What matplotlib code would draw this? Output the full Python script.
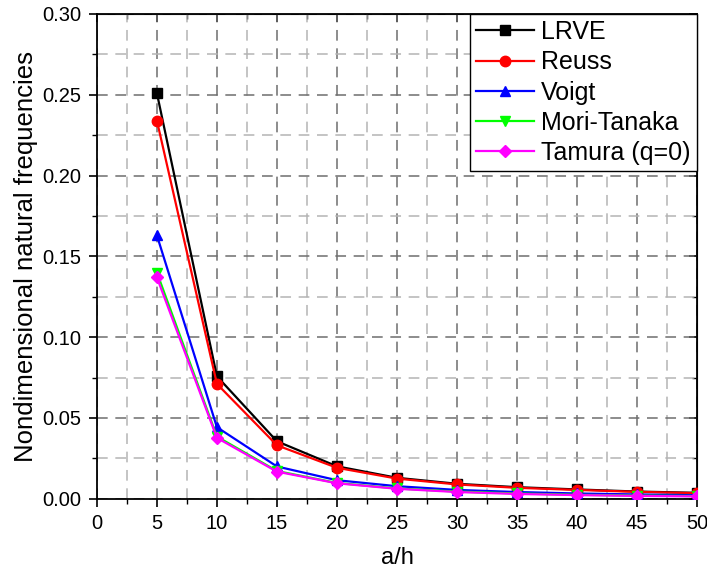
import numpy as np
import matplotlib
matplotlib.use('Agg')
import matplotlib.pyplot as plt
from matplotlib.ticker import MultipleLocator

plt.rcParams['font.family'] = ['Liberation Sans', 'DejaVu Sans']

a_h = [5, 10, 15, 20, 25, 30, 35, 40, 45, 50]
lrve = [0.251, 0.0758, 0.0356, 0.0201, 0.0130, 0.0093, 0.0072, 0.0058, 0.0045, 0.0037]
reuss = [0.234, 0.0711, 0.0331, 0.0192, 0.0125, 0.0089, 0.0068, 0.0055, 0.0043, 0.0035]
voigt = [0.163, 0.0443, 0.0200, 0.0115, 0.0078, 0.0055, 0.0042, 0.0033, 0.0027, 0.0022]
mori_tanaka = [0.140, 0.0385, 0.0172, 0.0098, 0.0064, 0.0045, 0.0033, 0.0025, 0.0020, 0.0017]
tamura = [0.137, 0.0377, 0.0168, 0.0096, 0.0062, 0.0042, 0.0030, 0.0023, 0.0018, 0.0015]

series = [
    ('LRVE', lrve, 'black', 's'),
    ('Reuss', reuss, 'red', 'o'),
    ('Voigt', voigt, 'blue', '^'),
    ('Mori-Tanaka', mori_tanaka, '#00ff00', 'v'),
    ('Tamura (q=0)', tamura, 'magenta', 'D'),
]

fig = plt.figure(figsize=(7.07, 5.78), dpi=100)
ax = fig.add_axes([0.137, 0.137, 0.849, 0.839])

for name, vals, col, mk in series:
    ms = 6.5 if mk == 'D' else 7.5
    ax.plot(a_h, vals, color=col, marker=mk, markersize=ms, linewidth=1.6,
            label=name, zorder=3)

ax.set_xlim(0, 50)
ax.set_ylim(0, 0.30)
ax.xaxis.set_major_locator(MultipleLocator(5))
ax.xaxis.set_minor_locator(MultipleLocator(2.5))
ax.yaxis.set_major_locator(MultipleLocator(0.05))
ax.yaxis.set_minor_locator(MultipleLocator(0.025))
ax.yaxis.set_major_formatter(matplotlib.ticker.FormatStrFormatter('%.2f'))

ax.grid(which='major', color='#6e6e6e', linestyle=(0, (7, 5)), linewidth=1.1)
ax.grid(which='minor', color='#b4b4b4', linestyle=(0, (7, 5)), linewidth=1.1)
ax.set_axisbelow(True)

ax.tick_params(which='major', direction='out', length=6, width=1.2, labelsize=14.5, pad=5)
ax.tick_params(which='minor', direction='out', length=3.5, width=1.0)
for sp in ax.spines.values():
    sp.set_linewidth(1.3)

# mirrored inward ticks on top and right
top = ax.secondary_xaxis('top')
top.xaxis.set_major_locator(MultipleLocator(5))
top.xaxis.set_minor_locator(MultipleLocator(2.5))
top.tick_params(which='major', direction='in', length=6, width=1.2, labeltop=False)
top.tick_params(which='minor', direction='in', length=3.5, width=1.0)
right = ax.secondary_yaxis('right')
right.yaxis.set_major_locator(MultipleLocator(0.05))
right.yaxis.set_minor_locator(MultipleLocator(0.025))
right.tick_params(which='major', direction='in', length=6, width=1.2, labelright=False)
right.tick_params(which='minor', direction='in', length=3.5, width=1.0)

ax.set_xlabel('a/h', fontsize=17, labelpad=10)
ax.set_ylabel('Nondimensional natural frequencies', fontsize=18.5, labelpad=3)

leg = ax.legend(loc='upper right', fontsize=18, frameon=True, fancybox=False,
                borderaxespad=0, handlelength=2.3, handletextpad=0.3,
                labelspacing=0.25, borderpad=0.25)
leg.get_frame().set_edgecolor('black')
leg.get_frame().set_linewidth(1.0)
leg.get_frame().set_alpha(1)

fig.savefig('out.png', dpi=100)
